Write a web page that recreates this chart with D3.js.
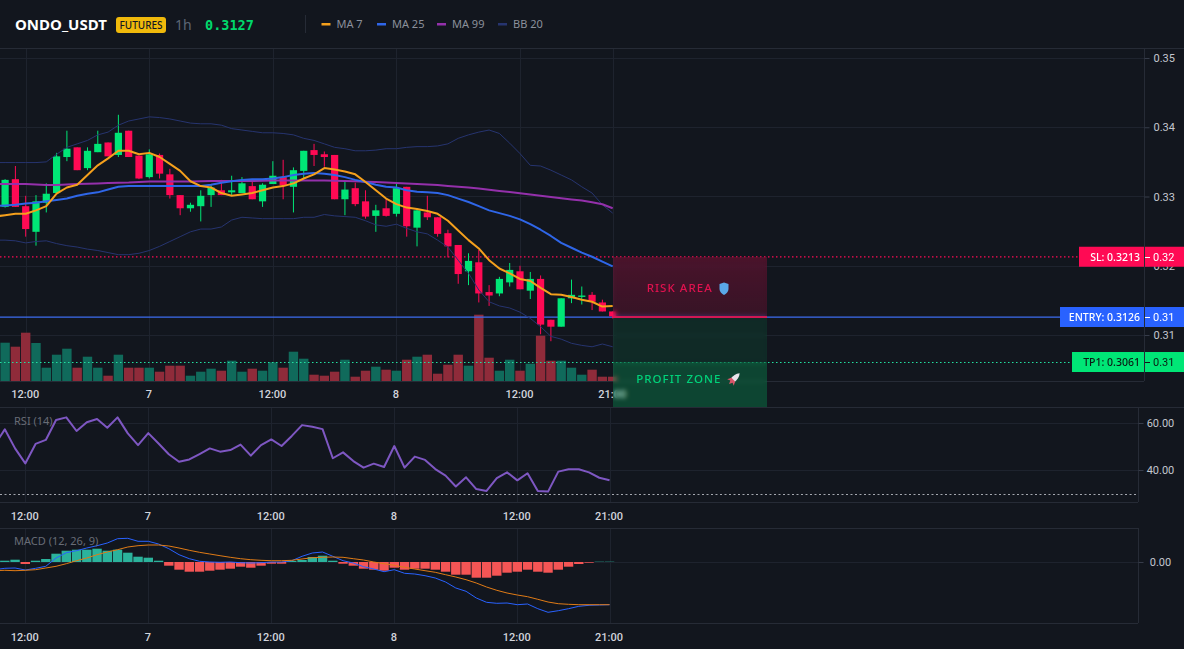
<!DOCTYPE html>
<html>
<head>
<meta charset="utf-8">
<title>ONDO_USDT 1h</title>
<script src="https://cdn.jsdelivr.net/npm/d3@7/dist/d3.min.js"></script>
<style>
  html, body { margin: 0; padding: 0; background: #12161e; overflow: hidden; }
  #chart { position: relative; width: 1184px; height: 649px; font-family: "Noto Sans", sans-serif; }
  svg { position: absolute; left: 0; top: 0; }
  .zone { position: absolute; backdrop-filter: blur(2px); -webkit-backdrop-filter: blur(2px); box-sizing: border-box; }
  .zone span { position: absolute; font: 500 11.5px "Noto Sans", sans-serif; letter-spacing: 1.05px; white-space: nowrap; }
  .axis path { display: none; }
  .axis line { stroke: #363c4a; }
</style>
</head>
<body>
<div id="chart"></div>
<script>
// Symbol header
const symbol = "ONDO_USDT", marketTag = "FUTURES", interval = "1h", lastPrice = "0.3127";

// Hourly bars: hour offset from the first 12:00 on the time axis
const barHours = d3.range(-2, 58);
const lineHours = d3.range(-3, 58);

const opens = [.3285,.3325,.3286,.3249,.3291,.3305,.3357,.3371,.3341,.3364,.3378,.3360,.3395,.3359,.3328,.3360,.3332,.3302,.3283,.3286,.3302,.3309,.3306,.3305,.3315,.3293,.3318,.3328,.3314,.3337,.3367,.3361,.3360,.3296,.3312,.3293,.3272,.3283,.3275,.3314,.3255,.3277,.3270,.3247,.3230,.3192,.3205,.3162,.3160,.3176,.3192,.3164,.3181,.3122,.3112,.3153,.3155,.3158,.3147,.3134];
const highs = [.3325,.3344,.3301,.3302,.3319,.3363,.3395,.3371,.3371,.3395,.3378,.3418,.3395,.3359,.3368,.3362,.3340,.3302,.3291,.3309,.3317,.3324,.3330,.3328,.3324,.3319,.3351,.3353,.3342,.3366,.3376,.3365,.3360,.3321,.3320,.3309,.3288,.3296,.3321,.3314,.3283,.3301,.3270,.3252,.3230,.3218,.3223,.3172,.3184,.3204,.3200,.3191,.3186,.3122,.3153,.3180,.3170,.3162,.3151,.3134];
const lows = [.3284,.3285,.3242,.3229,.3277,.3305,.3351,.3338,.3338,.3364,.3358,.3357,.3357,.3325,.3326,.3326,.3297,.3273,.3278,.3264,.3285,.3302,.3302,.3305,.3296,.3285,.3318,.3296,.3277,.3326,.3344,.3343,.3296,.3273,.3286,.3268,.3249,.3271,.3271,.3242,.3228,.3266,.3242,.3212,.3174,.3172,.3147,.3142,.3156,.3170,.3166,.3152,.3101,.3091,.3112,.3146,.3144,.3136,.3134,.3124];
const closes = [.3324,.3285,.3253,.3293,.3304,.3358,.3369,.3338,.3366,.3376,.3358,.3392,.3357,.3326,.3361,.3333,.3302,.3283,.3288,.3301,.3313,.3302,.3309,.3319,.3296,.3317,.3330,.3316,.3338,.3366,.3360,.3357,.3296,.3310,.3289,.3271,.3280,.3272,.3312,.3257,.3280,.3270,.3246,.3228,.3188,.3207,.3160,.3157,.3181,.3194,.3166,.3181,.3115,.3112,.3153,.3158,.3157,.3148,.3134,.3127];
const volumes = [383,343,483,380,133,263,323,133,243,133,53,263,133,133,133,93,153,153,53,93,123,103,203,93,123,103,187,133,293,223,63,53,93,213,43,103,143,113,103,213,243,263,73,163,263,153,663,233,103,213,103,173,453,203,203,133,63,113,43,43];

const ma7 = [.3271,.3273,.3275,.3275,.3280,.3286,.3304,.3313,.3317,.3331,.3345,.3355,.3366,.3366,.3361,.3363,.3357,.3347,.3337,.3322,.3315,.3313,.3305,.3301,.3303,.3305,.3309,.3313,.3315,.3319,.3326,.3332,.3341,.3339,.3336,.3332,.3321,.3309,.3297,.3289,.3284,.3282,.3279,.3275,.3265,.3251,.3237,.3225,.3208,.3196,.3189,.3181,.3178,.3168,.3159,.3158,.3155,.3151,.3148,.3141,.3142];
const ma25 = [.3286,.3287,.3288,.3290,.3291,.3293,.3295,.3297,.3301,.3304,.3306,.3310,.3314,.3315,.3315,.3315,.3315,.3315,.3315,.3315,.3315,.3317,.3320,.3322,.3324,.3325,.3325,.3326,.3328,.3331,.3333,.3334,.3333,.3331,.3328,.3324,.3321,.3317,.3314,.3313,.3309,.3307,.3306,.3305,.3302,.3297,.3292,.3286,.3280,.3276,.3272,.3267,.3260,.3252,.3243,.3233,.3226,.3219,.3213,.3206,.3199];
const ma99 = [.33180,.33180,.33180,.33180,.33173,.33166,.33166,.33173,.33180,.33183,.33188,.33195,.33199,.33202,.33209,.33217,.33217,.33217,.33217,.33217,.33220,.33224,.33224,.33224,.33224,.33224,.33228,.33231,.33231,.33231,.33231,.33231,.33231,.33228,.33224,.33220,.33214,.33210,.33202,.33195,.33188,.33180,.33173,.33166,.33152,.33140,.33130,.33115,.33097,.33080,.33065,.33048,.33029,.33010,.32993,.32975,.32958,.32941,.32917,.32888,.32830];
const bbUpper = [.3349,.3349,.3349,.3349,.3349,.3350,.3361,.3371,.3376,.3381,.3389,.3393,.3403,.3409,.3412,.3415,.3414,.3412,.3409,.3406,.3405,.3405,.3403,.3398,.3396,.3394,.3392,.3392,.3391,.3389,.3384,.3381,.3376,.3371,.3369,.3366,.3366,.3367,.3369,.3369,.3371,.3372,.3372,.3373,.3376,.3384,.3389,.3393,.3396,.3391,.3377,.3362,.3345,.3344,.3338,.3331,.3324,.3314,.3305,.3288,.3276];
const bbLower = [.3237,.3237,.3236,.3233,.3235,.3236,.3232,.3229,.3227,.3224,.3222,.3219,.3216,.3216,.3218,.3222,.3228,.3235,.3242,.3249,.3253,.3253,.3256,.3266,.3270,.3269,.3268,.3268,.3268,.3268,.3270,.3270,.3274,.3272,.3271,.3270,.3265,.3259,.3257,.3260,.3254,.3249,.3246,.3237,.3227,.3208,.3189,.3165,.3148,.3142,.3139,.3133,.3124,.3112,.3098,.3094,.3088,.3085,.3083,.3087,.3083];

const rsi = [50.6,57.3,49.2,42.8,51.1,52.8,61.3,62.4,56.6,60.3,61.7,58.0,62.4,55.6,50.6,55.7,51.3,46.7,43.5,44.5,46.8,49.2,47.8,48.5,50.8,46.1,50.6,53.0,50.2,54.5,59.1,58.4,57.4,45.0,47.5,43.8,41.0,42.7,41.3,50.2,41.0,45.7,44.3,40.4,37.6,33.0,36.9,31.9,31.1,36.5,39.0,35.6,38.6,31.1,30.8,39.3,40.3,40.3,39.0,36.7,35.6];
const rsiFloor = 30;

const macdLine = [-.00077,-.00063,-.0006,-.0008,-.00063,-.00043,.0004,.00093,.00113,.0014,.00163,.0019,.00233,.00237,.00207,.00207,.0018,.00133,.00073,.00033,.00007,0,-.00003,0,-.00007,-.0001,-.00007,0,0,.00013,.00057,.0009,.001,.00057,.00013,-.0001,-.00047,-.0007,-.00097,-.00077,-.00113,-.0012,-.00137,-.0016,-.002,-.0026,-.00293,-.0036,-.00403,-.00413,-.0041,-.00427,-.0042,-.00467,-.00503,-.00487,-.00467,-.00443,-.00433,-.0043,-.00427];
const macdSignal = [-.00087,-.00083,-.00087,-.00083,-.00077,-.0006,-.00043,-.00017,.00013,.0004,.00073,.001,.00123,.0015,.00163,.0017,.0017,.0016,.0014,.00117,.00097,.0008,.00063,.00047,.00033,.00023,.00017,.00013,.00013,.00017,.0003,.00043,.00047,.0005,.00047,.00033,.0002,0,-.00017,-.00033,-.00053,-.0007,-.00087,-.00103,-.00127,-.0015,-.00177,-.0021,-.0025,-.00283,-.0031,-.0033,-.00347,-.00373,-.004,-.00417,-.00423,-.00427,-.00427,-.00427,-.00427];
const macdHist = [.00013,.00023,-.0002,.00013,.0003,.00083,.00113,.00123,.00123,.00133,.00113,.00123,.00093,.00053,.00043,.00013,-.00037,-.00077,-.00097,-.00097,-.00087,-.00077,-.00067,-.00047,-.00057,-.00037,-.00017,-.00017,.0001,.0002,.0005,.00063,.00013,-.00017,-.00037,-.00067,-.00077,-.00087,-.00057,-.00077,-.00067,-.00067,-.00077,-.00097,-.00127,-.00127,-.00157,-.00157,-.00137,-.00107,-.00097,-.00077,-.00097,-.00107,-.00077,-.00047,-.0002,-.00007,.00003,.00003];

// Axis ticks
const priceTicks = [0.31, 0.32, 0.33, 0.34, 0.35];
const rsiTicks = [40, 60];
const macdTicks = [0];
const timeTicks = [0, 12, 24, 36, 48, 57];
const timeLabels = ["12:00", "7", "12:00", "8", "12:00", "21:00"];

// Trade levels
const stopLoss = 0.3213, entry = 0.3126, takeProfit = 0.3061, zoneFloor = 0.2996;
const zoneEndHour = 72;

const legendNames = ["MA 7", "MA 25", "MA 99", "BB 20"];

const colors = {
  up: "#00e676", down: "#ff0a54", ma7: "#f5a01c", ma25: "#2f66e8", ma99: "#9430ab", bb: "#26346f",
  grid: "#1e232e", frame: "#262b36", volUp: "#106a5b", volDown: "#8f2b3a",
  histUp: "#2bb39c", histDown: "#f55555", rsi: "#7e57c2", macd: "#2962ff", signal: "#e07b16", text: "#c3c6ce"
};

const W = 1184, H = 649;
const panes = {
  main: { top: 48, bottom: 381, right: 1144 },
  rsi: { top: 407, bottom: 502, right: 1138 },
  macd: { top: 528, bottom: 623, right: 1138 }
};

const xMain = d3.scaleLinear().domain([0, 48]).range([25.7, 520]);
const xSub = d3.scaleLinear().domain([0, 48]).range([25.3, 517.3]);
const yPrice = d3.scaleLinear().domain([0.31, 0.35]).range([335, 58]);
const yVol = d3.scaleLinear().domain([0, 700]).range([381, 311]);
const yRsi = d3.scaleLinear().domain([40, 60]).range([470, 423]);
const yMacd = d3.scaleLinear().domain([0, 0.001]).range([562, 552]);
const snap = v => Math.round(v) + .5;

const root = d3.select("#chart");
const svg = root.append("svg").attr("width", W).attr("height", H);

// Pane frames and grid
function frame(pane, x, ticks, y) {
  const g = svg.append("g");
  g.selectAll("line.v").data(timeTicks).join("line")
    .attr("x1", d => snap(x(d))).attr("x2", d => snap(x(d)))
    .attr("y1", pane.top).attr("y2", pane.bottom).attr("stroke", colors.grid);
  g.selectAll("line.h").data(ticks).join("line")
    .attr("x1", 0).attr("x2", pane.right)
    .attr("y1", d => snap(y(d))).attr("y2", d => snap(y(d))).attr("stroke", colors.grid);
  [pane.top, pane.bottom].forEach(v => g.append("line")
    .attr("x1", 0).attr("x2", pane.right).attr("y1", v + .5).attr("y2", v + .5).attr("stroke", colors.frame));
  g.append("line").attr("x1", pane.right + .5).attr("x2", pane.right + .5)
    .attr("y1", pane.top).attr("y2", pane.bottom).attr("stroke", colors.frame);
}
frame(panes.main, xMain, priceTicks, yPrice);
frame(panes.rsi, xSub, rsiTicks, yRsi);
frame(panes.macd, xSub, macdTicks, yMacd);
svg.append("line").attr("x1", 0).attr("x2", W).attr("y1", 407.5).attr("y2", 407.5).attr("stroke", colors.frame);

// Value axes
function valueAxis(pane, y, ticks, fmt, anchor, dx) {
  const g = svg.append("g").attr("class", "axis").attr("transform", `translate(${pane.right + .5},0)`)
    .call(d3.axisRight(y).tickValues(ticks).tickSize(5).tickPadding(4).tickFormat(fmt));
  g.selectAll("text").attr("fill", colors.text).attr("font-size", 11).attr("font-family", "Roboto, sans-serif")
    .attr("text-anchor", anchor).attr("x", dx);
}
valueAxis(panes.main, yPrice, priceTicks, d3.format(".2f"), "start", 9);
valueAxis(panes.rsi, yRsi, rsiTicks, d3.format(".2f"), "middle", 22);
valueAxis(panes.macd, yMacd, macdTicks, d3.format(".2f"), "middle", 22);

// Time axes
function timeAxis(pane, x, padding) {
  const g = svg.append("g").attr("class", "axis").attr("transform", `translate(-1,${pane.bottom})`)
    .call(d3.axisBottom(x).tickValues(timeTicks).tickSize(0).tickPadding(padding).tickFormat((d, i) => timeLabels[i]));
  g.selectAll("text").attr("fill", "#d1d4dc").attr("font-size", 11).attr("font-weight", 500)
    .attr("font-family", "Roboto, sans-serif");
}
timeAxis(panes.main, xMain, 9);
timeAxis(panes.rsi, xSub, 10);
timeAxis(panes.macd, xSub, 10);

// Volume bars share the candle direction colour
svg.append("g").selectAll("rect").data(barHours).join("rect")
  .attr("x", h => xMain(h) - 4.7).attr("width", 9.4)
  .attr("y", (h, i) => yVol(volumes[i])).attr("height", (h, i) => yVol(0) - yVol(volumes[i]))
  .attr("fill", (h, i) => closes[i] >= opens[i] ? colors.volUp : colors.volDown);

// Trade level lines
svg.append("line").attr("x1", 0).attr("x2", 1079).attr("y1", yPrice(stopLoss) + .2).attr("y2", yPrice(stopLoss) + .2)
  .attr("stroke", colors.down).attr("stroke-width", 1.2).attr("stroke-dasharray", "1.5 2.5");
svg.append("line").attr("x1", 0).attr("x2", 1072).attr("y1", snap(yPrice(takeProfit))).attr("y2", snap(yPrice(takeProfit)))
  .attr("stroke", "#22e0a0").attr("stroke-dasharray", "1.5 2.5");
svg.append("line").attr("x1", 0).attr("x2", 1060).attr("y1", yPrice(entry) + .2).attr("y2", yPrice(entry) + .2)
  .attr("stroke", "#3d6cf0").attr("stroke-width", 1.2);

// Candles
const candles = svg.append("g").selectAll("g").data(barHours).join("g")
  .attr("fill", (h, i) => closes[i] >= opens[i] ? colors.up : colors.down)
  .attr("stroke", (h, i) => closes[i] >= opens[i] ? colors.up : colors.down);
candles.append("line")
  .attr("x1", h => xMain(h)).attr("x2", h => xMain(h))
  .attr("y1", (h, i) => yPrice(highs[i])).attr("y2", (h, i) => yPrice(lows[i])).attr("stroke-width", 1);
candles.append("rect")
  .attr("x", h => xMain(h) - 3.6).attr("width", 7.2).attr("stroke", "none")
  .attr("y", (h, i) => yPrice(Math.max(opens[i], closes[i])))
  .attr("height", (h, i) => Math.max(1, Math.abs(yPrice(opens[i]) - yPrice(closes[i]))));

// Overlay lines
function overlay(values, x, y, stroke, width, opacity) {
  const line = d3.line().x((d, i) => x(lineHours[i])).y(d => y(d));
  svg.append("path").attr("d", line(values)).attr("fill", "none")
    .attr("stroke", stroke).attr("stroke-width", width).attr("opacity", opacity || 1)
    .attr("stroke-linejoin", "round");
}
overlay(bbUpper, xMain, yPrice, colors.bb, 1);
overlay(bbLower, xMain, yPrice, colors.bb, 1);
overlay(ma99, xMain, yPrice, colors.ma99, 2);
overlay(ma25, xMain, yPrice, colors.ma25, 2);
overlay(ma7, xMain, yPrice, colors.ma7, 2);

// RSI pane
svg.append("line").attr("x1", 0).attr("x2", panes.rsi.right)
  .attr("y1", snap(yRsi(rsiFloor))).attr("y2", snap(yRsi(rsiFloor)))
  .attr("stroke", "#c9ccd4").attr("stroke-dasharray", "2 2.5").attr("opacity", .8);
overlay(rsi, xSub, yRsi, colors.rsi, 2);
svg.append("text").attr("x", 14).attr("y", 425).text("RSI (14)")
  .attr("fill", "#686c76").attr("font-size", 11).attr("font-family", "Noto Sans, sans-serif");

// MACD pane
svg.append("g").selectAll("rect").data(barHours).join("rect")
  .attr("x", h => xSub(h) - 4.7).attr("width", 9.4)
  .attr("y", (h, i) => Math.min(yMacd(0), yMacd(macdHist[i])))
  .attr("height", (h, i) => Math.abs(yMacd(0) - yMacd(macdHist[i])))
  .attr("fill", (h, i) => macdHist[i] >= 0 ? colors.histUp : colors.histDown);
overlay(macdLine, xSub, yMacd, colors.macd, 1);
overlay(macdSignal, xSub, yMacd, colors.signal, 1);
svg.append("text").attr("x", 14).attr("y", 545).text("MACD (12, 26, 9)")
  .attr("fill", "#686c76").attr("font-size", 11).attr("font-family", "Noto Sans, sans-serif");

// Header
svg.append("line").attr("x1", 0).attr("x2", W).attr("y1", 48.5).attr("y2", 48.5).attr("stroke", colors.frame);
svg.append("text").attr("x", 15).attr("y", 30).text(symbol)
  .attr("fill", "#ffffff").attr("font-size", 15).attr("font-weight", 700).attr("font-family", "Noto Sans, sans-serif");
svg.append("rect").attr("x", 116).attr("y", 17).attr("width", 50).attr("height", 16).attr("rx", 3).attr("fill", "#f0b90b");
svg.append("text").attr("x", 141).attr("y", 29).attr("text-anchor", "middle").text(marketTag)
  .attr("fill", "#131722").attr("font-size", 10).attr("font-weight", 500).attr("font-family", "Noto Sans, sans-serif");
svg.append("text").attr("x", 175).attr("y", 29.5).text(interval)
  .attr("fill", "#5d6675").attr("font-size", 14).attr("font-family", "Noto Sans, sans-serif");
svg.append("text").attr("x", 205).attr("y", 29.5).text(lastPrice)
  .attr("fill", "#00d96c").attr("font-size", 13.5).attr("font-weight", 700).attr("font-family", "DejaVu Sans Mono, monospace");
svg.append("line").attr("x1", 305.5).attr("x2", 305.5).attr("y1", 15).attr("y2", 33).attr("stroke", colors.frame);

const legendX = [321.5, 377, 437, 498];
const legendColors = [colors.ma7, colors.ma25, colors.ma99, colors.bb];
const legend = svg.append("g").selectAll("g").data(legendNames).join("g")
  .attr("transform", (d, i) => `translate(${legendX[i]},0)`);
legend.append("rect").attr("y", 23).attr("width", 9).attr("height", 2.5).attr("fill", (d, i) => legendColors[i]);
legend.append("text").attr("x", 15).attr("y", 28).text(d => d)
  .attr("fill", "#8b909b").attr("font-size", 11).attr("font-family", "Noto Sans, sans-serif");

// Risk and reward zones, frosted over whatever sits behind them
const zoneLeft = xMain(57), zoneRight = xMain(zoneEndHour);
function zone(yTop, yBottom, background) {
  return root.append("div").attr("class", "zone")
    .style("left", zoneLeft + "px").style("width", (zoneRight - zoneLeft) + "px")
    .style("top", yTop + "px").style("height", (yBottom - yTop) + "px")
    .style("background", background);
}
zone(yPrice(stopLoss), yPrice(entry) + 1, "linear-gradient(rgba(255,10,84,0.23), rgba(255,10,84,0.16))")
  .style("border-bottom", "2px solid rgba(232,20,80,0.85)")
  .append("span").text("RISK AREA").style("color", "#e0124f").style("left", "34px").style("top", "23px");
zone(yPrice(entry) + 1, yPrice(takeProfit), "rgba(0,230,118,0.10)");
zone(yPrice(takeProfit), yPrice(zoneFloor), "rgba(0,230,118,0.23)")
  .append("span").text("PROFIT ZONE").style("color", "#00d27a").style("left", "23.5px").style("top", "9px");

// Level badges on the price scale
const overlaySvg = root.append("svg").attr("width", W).attr("height", H).style("pointer-events", "none");
const badges = [
  { label: "SL: 0.3213", value: stopLoss, left: 1079, bg: colors.down, fg: "#ffffff" },
  { label: "ENTRY: 0.3126", value: entry, left: 1060, bg: "#2962ff", fg: "#ffffff" },
  { label: "TP1: 0.3061", value: takeProfit, left: 1072, bg: "#00e676", fg: "#0b1a14" }
];
const badge = overlaySvg.selectAll("g.badge").data(badges).join("g").attr("class", "badge");
badge.append("rect").attr("x", d => d.left).attr("width", d => 1144 - d.left)
  .attr("y", d => yPrice(d.value) - 10).attr("height", 20).attr("fill", d => d.bg);
badge.append("rect").attr("x", 1145).attr("width", 39)
  .attr("y", d => yPrice(d.value) - 10).attr("height", 20).attr("fill", d => d.bg);
badge.append("text").attr("x", 1140).attr("y", d => yPrice(d.value) + 3.8).attr("text-anchor", "end")
  .text(d => d.label).attr("fill", d => d.fg).attr("font-size", 10.5).attr("font-weight", 500)
  .attr("font-family", "Noto Sans, sans-serif");
badge.append("line").attr("x1", 1145).attr("x2", 1150).attr("y1", d => snap(yPrice(d.value))).attr("y2", d => snap(yPrice(d.value)))
  .attr("stroke", d => d.fg);
badge.append("text").attr("x", 1153).attr("y", d => yPrice(d.value) + 4).text(d => d3.format(".2f")(d.value))
  .attr("fill", d => d.fg).attr("font-size", 11).attr("font-family", "Roboto, sans-serif");

// Zone icons: shield and rocket
overlaySvg.append("path").attr("transform", "translate(724,283)")
  .attr("d", "M-4.5,1 L0,-0.5 L4.5,1 L4.5,6 C4.5,9 2,11 0,12 C-2,11 -4.5,9 -4.5,6 Z").attr("fill", "#5aa8e8");
overlaySvg.append("path").attr("transform", "translate(734,379) rotate(45)")
  .attr("d", "M0,-8 C2.6,-5 3,-2 2.6,3 L-2.6,3 C-3,-2 -2.6,-5 0,-8 Z").attr("fill", "#e8e4ea");
overlaySvg.append("path").attr("transform", "translate(734,379) rotate(45)")
  .attr("d", "M-2.6,1 L-4.6,5 L-1.6,3.6 L0,7 L1.6,3.6 L4.6,5 L2.6,1 Z").attr("fill", "#d9566a");
</script>
</body>
</html>
